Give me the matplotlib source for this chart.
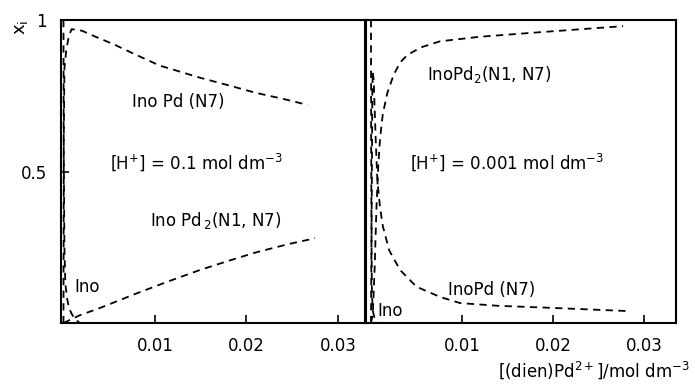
import matplotlib
matplotlib.use("Agg")
import matplotlib.pyplot as plt

# left panel, [H+] = 0.1 mol dm-3
l_pd_x = [0.0, 0.00003, 0.0001, 0.0003, 0.0006, 0.0009, 0.002, 0.0035, 0.0055, 0.0076, 0.0105, 0.0149, 0.018, 0.021, 0.024, 0.0267]
l_pd_y = [0.0, 0.60, 0.84, 0.90, 0.95, 0.97, 0.965, 0.945, 0.92, 0.89, 0.85, 0.81, 0.785, 0.76, 0.74, 0.72]
l_pd2_x = [0.0, 0.0008, 0.0018, 0.004, 0.008, 0.0115, 0.0149, 0.018, 0.021, 0.0245, 0.0275]
l_pd2_y = [0.0, 0.012, 0.026, 0.05, 0.098, 0.138, 0.175, 0.205, 0.233, 0.26, 0.28]
l_ino_x = [0.0, 0.00002, 0.0001, 0.0002, 0.0004, 0.0006, 0.0009, 0.0013, 0.0018]
l_ino_y = [1.0, 0.6, 0.25, 0.13, 0.08, 0.05, 0.03, 0.012, 0.0]

# right panel, [H+] = 0.001 mol dm-3
r_pd_x = [0.0, 0.00008, 0.00015, 0.0002, 0.0003, 0.0005, 0.0007, 0.001, 0.0013, 0.002, 0.0032, 0.005, 0.0076, 0.0098, 0.014, 0.02, 0.028]
r_pd_y = [0.0, 0.40, 0.78, 0.83, 0.80, 0.62, 0.47, 0.38, 0.32, 0.24, 0.175, 0.12, 0.086, 0.066, 0.057, 0.05, 0.04]
r_pd2_x = [0.0, 0.0002, 0.0004, 0.0006, 0.0008, 0.001, 0.0013, 0.0018, 0.0025, 0.0032, 0.004, 0.0055, 0.0076, 0.012, 0.0186, 0.0277]
r_pd2_y = [0.0, 0.03, 0.18, 0.38, 0.52, 0.61, 0.69, 0.76, 0.82, 0.86, 0.885, 0.91, 0.93, 0.945, 0.96, 0.98]
r_ino_x = [0.0, 0.00002, 0.00006, 0.0001, 0.0002, 0.0004, 0.0008]
r_ino_y = [1.0, 0.6, 0.25, 0.1, 0.04, 0.015, 0.0]

xticks = [0.01, 0.02, 0.03]
xticklabels = ["0.01", "0.02", "0.03"]

plt.rcParams["font.family"] = "DejaVu Sans"
plt.rcParams["font.size"] = 12

fig = plt.figure(figsize=(6.95, 3.86), dpi=100)
ax1 = fig.add_axes([0.0878, 0.163, 0.4372, 0.785])
ax2 = fig.add_axes([0.5266, 0.163, 0.4461, 0.785])

dash = dict(color="black", lw=1.3, ls=(0, (4, 3)))
ax1.plot(l_pd_x, l_pd_y, **dash)
ax1.plot(l_pd2_x, l_pd2_y, **dash)
ax1.plot(l_ino_x, l_ino_y, **dash)
ax2.plot(r_pd_x, r_pd_y, **dash)
ax2.plot(r_pd2_x, r_pd2_y, **dash)
ax2.plot(r_ino_x, r_ino_y, **dash)

ax1.set_xlim(-0.00027, 0.03295)
ax2.set_xlim(-0.00055, 0.03352)
for ax in (ax1, ax2):
    ax.set_ylim(0, 1)
    ax.set_xticks(xticks)
    ax.set_xticklabels(xticklabels)
    ax.tick_params(direction="in", length=6, width=1.2, pad=10)
    for s in ax.spines.values():
        s.set_linewidth(1.5)
ax1.set_yticks([0.5, 1])
ax1.set_yticklabels(["0.5", "1"])
ax2.set_yticks([])

ax1.text(0.0125, 0.73, "Ino Pd (N7)", ha="center", va="center")
ax1.text(0.0145, 0.53, r"[H$^{+}$] = 0.1 mol dm$^{-3}$", ha="center", va="center")
ax1.text(0.0167, 0.34, r"Ino Pd$_{\,2}$(N1, N7)", ha="center", va="center")
ax1.text(0.0012, 0.12, "Ino", ha="left", va="center")

ax2.text(0.0062, 0.82, r"InoPd$_2$(N1, N7)", ha="left", va="center")
ax2.text(0.0043, 0.53, r"[H$^{+}$] = 0.001 mol dm$^{-3}$", ha="left", va="center")
ax2.text(0.0085, 0.11, "InoPd (N7)", ha="left", va="center")
ax2.text(0.0007, 0.04, "Ino", ha="left", va="center")

fig.text(0.993, 0.04, r"[(dien)Pd$^{2+}$]/mol dm$^{-3}$", ha="right", va="center")
fig.text(0.03, 0.93, r"x$_{\mathrm{i}}$", rotation=90, ha="center", va="center", fontsize=13)

fig.savefig("out.png", dpi=100)
